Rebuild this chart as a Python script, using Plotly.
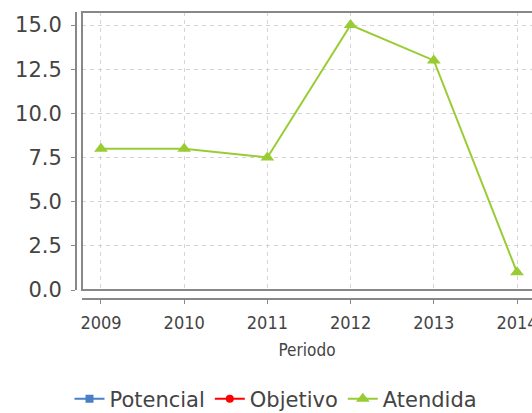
import plotly.graph_objects as go

periods = ["2009", "2010", "2011", "2012", "2013", "2014"]
potencial = [None, None, None, None, None, None]
objetivo = [None, None, None, None, None, None]
atendida = [8, 8, 7.5, 15, 13, 1]
y_ticks = [0, 2.5, 5, 7.5, 10, 12.5, 15]
y_tick_text = ["0.0", "2.5", "5.0", "7.5", "10.0", "12.5", "15.0"]

W, H = 532, 413
ML, MR, MT, MB = 70, 0, 12, 114
PW = W - ML - MR
PH = H - MT - MB

fig = go.Figure()
fig.add_trace(go.Scatter(x=periods, y=potencial, name="Potencial", mode="lines+markers",
                         line=dict(color="#4a7fc8", width=2),
                         marker=dict(symbol="square", size=8, color="#4a7fc8")))
fig.add_trace(go.Scatter(x=periods, y=objetivo, name="Objetivo", mode="lines+markers",
                         line=dict(color="#ff0000", width=2),
                         marker=dict(symbol="circle", size=8, color="#ff0000")))
fig.add_trace(go.Scatter(x=periods, y=atendida, name="Atendida", mode="lines+markers",
                         line=dict(color="#99cc33", width=2),
                         marker=dict(symbol="triangle-up", size=12, color="#99cc33")))

fig.update_layout(
    width=W, height=H,
    margin=dict(l=ML, r=MR, t=MT, b=MB, pad=0, autoexpand=False),
    paper_bgcolor="white", plot_bgcolor="white",
    showlegend=True,
    legend=dict(orientation="h", x=(276 - ML) / PW, xanchor="center",
                y=(H - MB - 399) / PH, yanchor="middle",
                font=dict(family="DejaVu Sans", size=21, color="#444"),
                itemwidth=30, tracegroupgap=0),
    xaxis=dict(type="category", categoryorder="array", categoryarray=periods,
               domain=[12 / PW, 1], anchor="free", position=0,
               range=[-0.228, 5.18], automargin=False,
               showline=True, linecolor="#888", linewidth=2,
               ticks="outside", ticklen=4, tickcolor="#888", tickwidth=1,
               ticklabelstandoff=3,
               showgrid=True, gridcolor="#d4d4d4", griddash="4px,4px", gridwidth=1,
               tickfont=dict(family="DejaVu Sans Condensed", size=18, color="#444"),
               title=dict(text="Periodo", standoff=12,
                          font=dict(family="DejaVu Sans Condensed", size=17, color="#444")),
               zeroline=False),
    yaxis=dict(domain=[9 / PH, 1], anchor="free", position=6 / PW,
               range=[0, 15.74], automargin=False,
               tickvals=y_ticks, ticktext=y_tick_text,
               showline=True, linecolor="#888", linewidth=2,
               ticks="outside", ticklen=4, tickcolor="#888", tickwidth=1,
               ticklabelstandoff=5,
               showgrid=True, gridcolor="#d4d4d4", griddash="4px,4px", gridwidth=1,
               tickfont=dict(family="DejaVu Sans", size=21, color="#444"),
               zeroline=False),
    shapes=[dict(type="rect", xref="x domain", yref="y domain", x0=0, x1=1.05, y0=0, y1=1,
                 line=dict(color="#888", width=2), layer="above")],
)

fig.write_html("out.html", config={"displayModeBar": False},
               post_script="document.body.style.margin='0';document.body.style.overflow='hidden';")
